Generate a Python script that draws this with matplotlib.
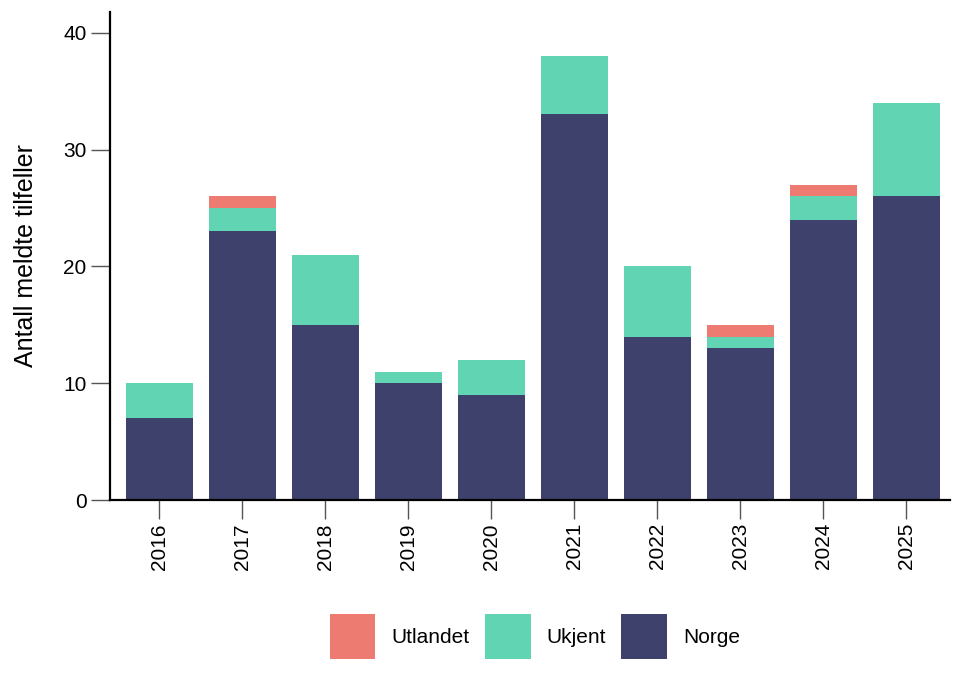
import matplotlib.pyplot as plt
import numpy as np

plt.rcParams['font.family'] = ['Liberation Sans', 'DejaVu Sans']

# data
years = ["2016", "2017", "2018", "2019", "2020", "2021", "2022", "2023", "2024", "2025"]
norge = [7, 23, 15, 10, 9, 33, 14, 13, 24, 26]
ukjent = [3, 2, 6, 1, 3, 5, 6, 1, 2, 8]
utlandet = [0, 1, 0, 0, 0, 0, 0, 1, 1, 0]

c_norge = "#3f416d"
c_ukjent = "#60d4b3"
c_utl = "#ee7b72"

fig = plt.figure(figsize=(9.7, 6.86), dpi=100)
ax = fig.add_axes([0.113, 0.271, 0.866, 0.712])

x = np.arange(len(years))
norge = np.array(norge)
ukjent = np.array(ukjent)
utlandet = np.array(utlandet)

b1 = ax.bar(x, norge, width=0.8, color=c_norge, label="Norge")
b2 = ax.bar(x, ukjent, width=0.8, bottom=norge, color=c_ukjent, label="Ukjent")
b3 = ax.bar(x, utlandet, width=0.8, bottom=norge + ukjent, color=c_utl, label="Utlandet")

ax.set_xlim(-0.6, 9.52)
ax.set_ylim(0, 41.8)
ax.set_yticks([0, 10, 20, 30, 40])
ax.set_xticks(x)
ax.set_xticklabels(years, rotation=90)

for s in ["top", "right"]:
    ax.spines[s].set_visible(False)
for s in ["left", "bottom"]:
    ax.spines[s].set_linewidth(1.6)

ax.tick_params(axis="both", length=13.5, width=1, color="#555555", labelsize=15, pad=3)
ax.set_ylabel("Antall meldte tilfeller", fontsize=18, labelpad=18)

leg = ax.legend(handles=[b3, b2, b1], loc="center", bbox_to_anchor=(0.506, -0.279),
                ncol=3, frameon=False, fontsize=15, handlelength=2.2, handleheight=2.9,
                handletextpad=0.75, columnspacing=0.75)

fig.savefig("out.png", dpi=100)
